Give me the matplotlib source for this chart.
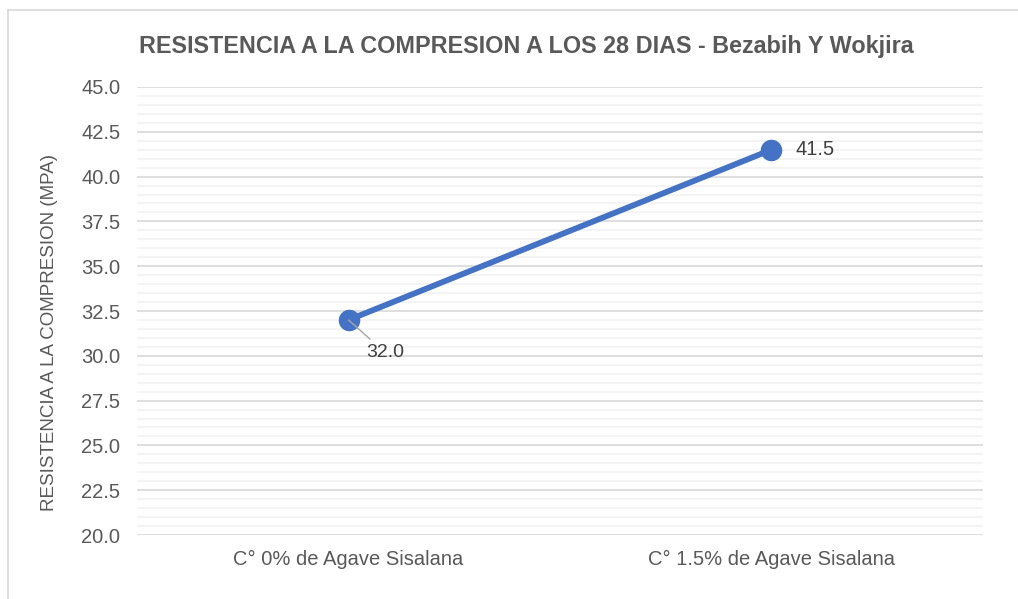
import matplotlib.pyplot as plt
from matplotlib.lines import Line2D
from matplotlib.ticker import MultipleLocator

plt.rcParams['font.family'] = ['Liberation Sans', 'DejaVu Sans']

# datos
categorias = ['C° 0% de Agave Sisalana', 'C° 1.5% de Agave Sisalana']
resistencia = [32.0, 41.5]
etiquetas = ['32.0', '41.5']

gris = '#595959'
azul = '#4472C4'


def main():
    fig = plt.figure(figsize=(10.18, 5.99), dpi=100)
    ax = fig.add_axes([0.1346, 0.1068, 0.9656 - 0.1346, 0.8548 - 0.1068])

    x = list(range(len(categorias)))
    ax.plot(x, resistencia, color=azul, lw=4.2, marker='o', markersize=14.5,
            solid_capstyle='round', zorder=3)

    # etiquetas de datos
    ax.annotate(etiquetas[0], xy=(x[0], resistencia[0]), xytext=(x[0] + 0.086, 30.2),
                ha='center', va='center', fontsize=14, color='#404040',
                arrowprops=dict(arrowstyle='-', color='#A6A6A6', lw=1,
                                shrinkA=2, shrinkB=0), zorder=4)
    ax.annotate(etiquetas[1], xy=(x[1], resistencia[1]), xytext=(17, 0),
                textcoords='offset points', ha='left', va='center',
                fontsize=14.5, color='#404040')

    ax.set_xlim(-0.5, 1.5)
    ax.set_ylim(20, 45)
    ax.set_xticks(x)
    ax.set_xticklabels(categorias)
    ax.yaxis.set_major_locator(MultipleLocator(2.5))
    ax.yaxis.set_minor_locator(MultipleLocator(0.5))
    ax.yaxis.set_major_formatter(lambda v, p: f'{v:.1f}')

    ax.grid(axis='y', which='major', color='#D9D9D9', lw=1.2)
    ax.grid(axis='y', which='minor', color='#F2F2F2', lw=1.2)
    ax.set_axisbelow(True)
    for s in ax.spines.values():
        s.set_visible(False)
    ax.tick_params(axis='both', which='both', length=0, colors=gris, labelsize=14.5)
    ax.tick_params(axis='x', pad=11)
    ax.tick_params(axis='y', pad=12)

    ax.set_ylabel('RESISTENCIA A LA COMPRESION (MPA)', fontsize=13.5, color=gris)
    ax.yaxis.set_label_coords(-0.0934, 0.453)
    fig.text(0.5167, 1 - 47 / 599, 'RESISTENCIA A LA COMPRESION A LOS 28 DIAS - Bezabih Y Wokjira',
             ha='center', va='center', fontsize=16.8, fontweight='bold', color=gris)

    # borde del área del gráfico
    xl, yt = 8 / 1018, 1 - 10 / 599
    fig.add_artist(Line2D([xl, xl], [0, yt], color='#D9D9D9', lw=1.2))
    fig.add_artist(Line2D([xl, 1], [yt, yt], color='#D9D9D9', lw=1.2))

    plt.savefig('out.png', dpi=100)


if __name__ == "__main__":
    main()
